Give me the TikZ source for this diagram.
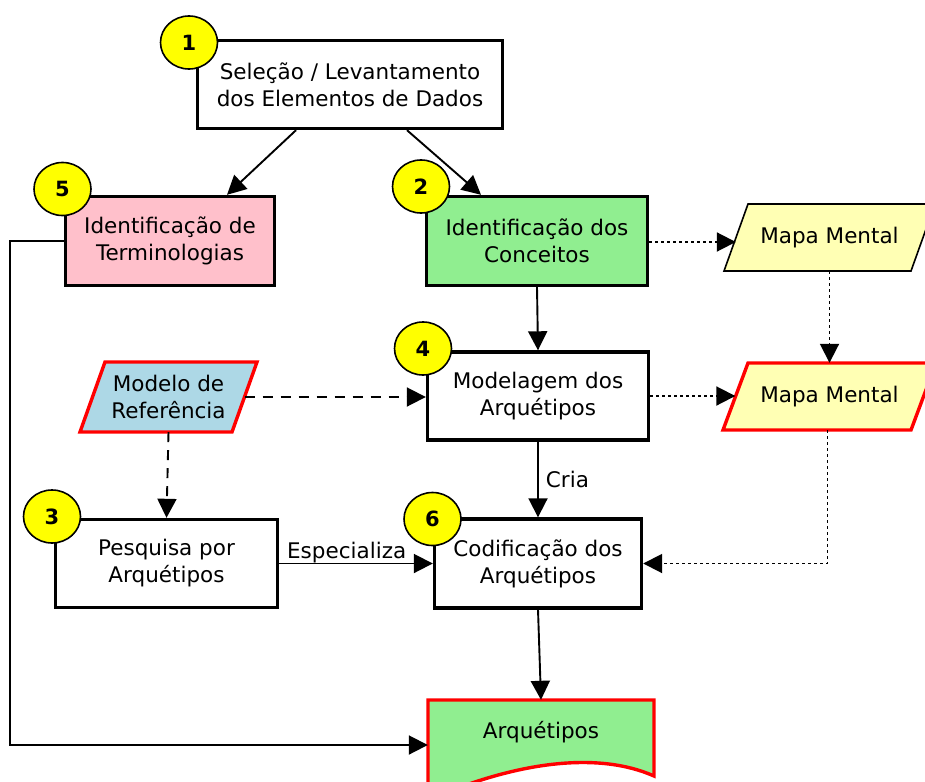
\documentclass[tikz,border=0pt]{standalone}
\usepackage{fontspec}
\setmainfont{DejaVu Sans}
\usetikzlibrary{arrows.meta,shapes.geometric}
\definecolor{cyellow}{RGB}{255,255,0}
\definecolor{mapfill}{RGB}{255,255,180}
\definecolor{pinkfill}{RGB}{255,192,203}
\definecolor{greenfill}{RGB}{144,238,144}
\definecolor{bluefill}{RGB}{173,216,230}
\definecolor{redline}{RGB}{255,0,0}
\tikzset{
  box/.style={draw=black, line width=3.4pt, fill=white, inner sep=0pt, align=center,
    font=\fontsize{21.5}{27}\selectfont},
  numcirc/.style={ellipse, draw=black, line width=1.6pt, fill=cyellow, inner sep=0pt,
    minimum width=57pt, minimum height=53pt, font=\fontsize{21}{24}\bfseries\selectfont},
  anchorbox/.style={draw=none, inner sep=0pt, align=center, font=\fontsize{21.5}{27}\selectfont},
  conn/.style={line width=1.9pt, -{Triangle[length=19pt,width=19pt]}},
  dotconn/.style={conn, dash pattern=on 3pt off 3pt},
  dashconn/.style={conn, dash pattern=on 10pt off 8pt},
  lbl/.style={inner sep=0pt, font=\fontsize{21.5}{27}\selectfont},
}
\begin{document}
\begin{tikzpicture}[x=1pt,y=-1pt]
\useasboundingbox (0,0) rectangle (925,781);
\begin{scope}
\clip (0,0) rectangle (925,781);

% boxes
\node[box, minimum width=305pt, minimum height=88pt] (b1) at (350,84.5)
  {Seleção / Levantamento\\dos Elementos de Dados};
\node[box, fill=pinkfill, minimum width=209pt, minimum height=89pt] (b5) at (170,241)
  {Identificação de\\Terminologias};
\node[box, fill=greenfill, minimum width=221pt, minimum height=89pt] (b2) at (537,241)
  {Identificação dos\\Conceitos};
\node[box, minimum width=221pt, minimum height=88pt] (b4) at (538,396)
  {Modelagem dos\\Arquétipos};
\node[box, minimum width=222pt, minimum height=88pt] (b3) at (166.5,563.5)
  {Pesquisa por\\Arquétipos};
\node[box, minimum width=207pt, minimum height=89pt] (b6) at (538,563.5)
  {Codificação dos\\Arquétipos};

% parallelograms
\draw[line width=1.6pt, fill=mapfill] (724,271) -- (748,204) -- (935,204) -- (911,271) -- cycle;
\node[anchorbox, minimum width=187pt, minimum height=67pt] (mm1) at (829.5,237.5) {Mapa Mental};
\draw[line width=3.4pt, draw=redline, fill=mapfill] (723,430) -- (748,363) -- (936,363) -- (911,430) -- cycle;
\node[anchorbox, minimum width=188pt, minimum height=67pt] (mm2) at (829.5,396.5) {Mapa Mental};
\draw[line width=3.4pt, draw=redline, fill=bluefill] (80,432) -- (105,362) -- (257,362) -- (232,432) -- cycle;
\node[anchorbox, minimum width=152pt, minimum height=70pt] (mr) at (168.5,397) {Modelo de\\Referência};

% document shape
\draw[line width=3.4pt, draw=redline, fill=greenfill] (428,800) -- (428,700) -- (654,700) -- (654,776)
  .. controls (600,752) and (520,760) .. (428,800) -- cycle;
\node[anchorbox, minimum width=226pt, minimum height=90pt] (arq) at (541,745) {};
\node[lbl] (arqt) at (541,732) {Arquétipos};

% number circles
\node[numcirc] (c1) at (189,42.5) {1};
\node[numcirc] (c5) at (62.5,189) {5};
\node[numcirc] (c2) at (421,186.5) {2};
\node[numcirc] (c4) at (423,348.5) {4};
\node[numcirc] (c3) at (52,516.5) {3};
\node[numcirc] (c6) at (432.5,519) {6};

% connectors
\draw[conn] ([xshift=-54pt]b1.south) -- ([xshift=57pt]b5.north);
\draw[conn] ([xshift=57pt]b1.south) -- ([xshift=-56pt]b2.north);
\draw[dotconn] ([yshift=-1pt]b2.east) -- ([yshift=-1pt]b2.east -| mm1.west);
\draw[dotconn] (mm1.south) -- (mm2.north);
\draw[conn] (b2.south) -- (b4.north);
\draw[dotconn] (b4.east) -- (b4.east -| mm2.west);
\draw[dashconn] (mr.east) -- (mr.east -| b4.west);
\draw[dashconn] (mr.south) -- (b3.north);
\draw[conn] (b4.south) -- node[lbl, anchor=west, xshift=7pt] {Cria} (b6.north);
\draw[conn] (b3.east) -- node[lbl, pos=0, anchor=south west, xshift=7pt] {Especializa} (b6.west);
\draw[dotconn] ([xshift=-2pt]mm2.south) |- (b6.east);
\draw[conn] (b6.south) -- (arq.north);
\draw[conn] (b5.west) -- ++(-54,0) |- (arq.west);
\end{scope}
\end{tikzpicture}
\end{document}
